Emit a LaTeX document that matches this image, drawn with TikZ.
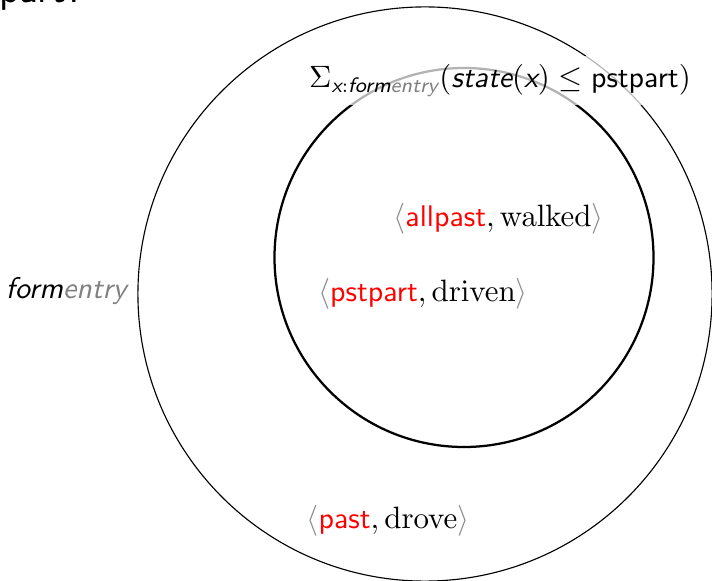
\documentclass[tikz,border=0pt]{standalone}
\usepackage{amsmath}
\usetikzlibrary{positioning}
\definecolor{brk}{gray}{0.55}
\definecolor{lgray}{gray}{0.5}
\newcommand{\sfi}[1]{\textsf{\itshape #1}}
\newcommand{\sfu}[1]{\textsf{#1}}
\newcommand{\labfont}{\fontsize{10.6pt}{12.7pt}\selectfont}
\begin{document}
\begin{tikzpicture}[x=0.3546pt,y=-0.3546pt,
  lbl/.style={anchor=base,inner sep=0pt,font=\labfont},
  outerring/.style={draw=black,line width=0.4pt},
  innerring/.style={draw=black,line width=0.8pt},
  sumlabel/.style={anchor=base,fill=white,fill opacity=0.7,text opacity=1,inner sep=3pt,font=\labfont}]
\useasboundingbox (0,0) rectangle (712,581);
% partly visible title
\node[anchor=base west,inner sep=0pt,font=\Large\sffamily] (title) at (-1,2.5) {part?};
% circles
\draw[outerring] (425,294) circle [radius=101.8pt];
\coordinate (oc) at (425,294);
\draw[innerring] (464,257.5) circle [radius=67.2pt];
\coordinate (ic) at (464,257.5);
% labels
\node[sumlabel] (sum) at (500,88)
  {$\Sigma_{\sfi{x}:\sfi{form}\textcolor{lgray}{\sfi{entry}}}(\sfi{state}(\sfi{x}) \leq \sfu{pstpart})$};
\node[lbl] (allpast) at (498.5,227)
  {$\textcolor{brk}{\langle}\textcolor{red}{\sfu{allpast}},\mathrm{walked}\textcolor{brk}{\rangle}$};
\node[lbl] (pstpart) at (423,302)
  {$\textcolor{brk}{\langle}\textcolor{red}{\sfu{pstpart}},\mathrm{driven}\textcolor{brk}{\rangle}$};
\node[lbl] (past) at (388,528)
  {$\textcolor{brk}{\langle}\textcolor{red}{\sfu{past}},\mathrm{drove}\textcolor{brk}{\rangle}$};
\node[lbl] (form) at (67.5,299) {\sfi{form}\textcolor{lgray}{\sfi{entry}}};
\end{tikzpicture}
\end{document}
